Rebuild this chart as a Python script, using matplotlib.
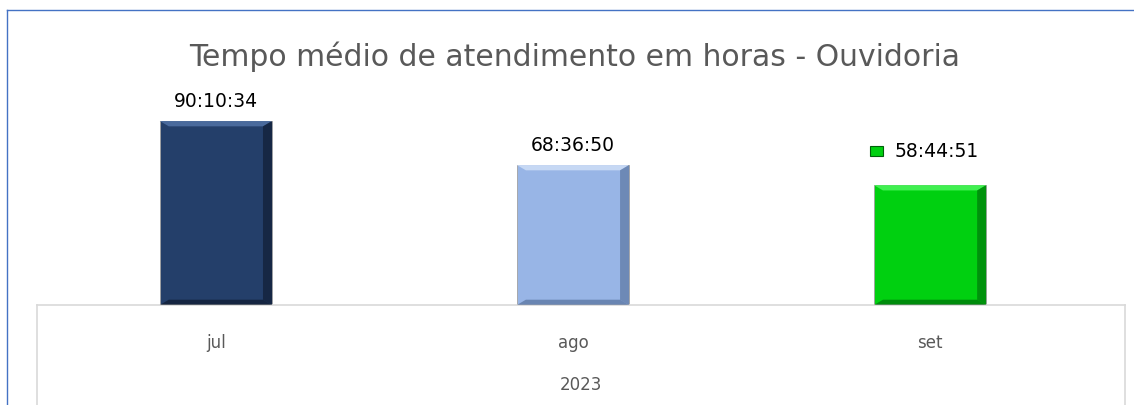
import matplotlib
matplotlib.use("Agg")
import matplotlib.pyplot as plt
from matplotlib.lines import Line2D
from matplotlib.patches import Polygon, Rectangle

months = ["jul", "ago", "set"]
year = "2023"
labels = ["90:10:34", "68:36:50", "58:44:51"]
colors = ["#243F6A", "#98B5E6", "#00D010"]
dark = ["#0B1526", "#4A6590", "#00600A"]
light = ["#4A6A9C", "#C6D8F4", "#40F050"]


def to_hours(s):
    h, m, sec = [int(p) for p in s.split(":")]
    return h + m / 60 + sec / 3600


hours = [to_hours(s) for s in labels]

W, H = 1134, 405
fig = plt.figure(figsize=(W / 100, H / 100), dpi=100)
ax = fig.add_axes([37 / W, 100 / H, (1125 - 37) / W, (305 - 101) / H])

x = list(range(len(months)))
bw = 0.314
bars = ax.bar(x, hours, width=bw, color=colors, edgecolor="#A0A0A0", linewidth=0.6, zorder=2)

# simple bevel look
for b, d, l in zip(bars, dark, light):
    x0, y0 = b.get_x(), b.get_y()
    w, h = b.get_width(), b.get_height()
    ex = w * 0.08
    ey = 2.6
    ax.add_patch(Polygon([(x0, y0 + h), (x0 + w, y0 + h), (x0 + w - ex, y0 + h - ey), (x0 + ex, y0 + h - ey)],
                         closed=True, color=l, lw=0, zorder=3))
    ax.add_patch(Polygon([(x0 + w, y0), (x0 + w, y0 + h), (x0 + w - ex, y0 + h - ey), (x0 + w - ex, y0 + ey)],
                         closed=True, color=d, lw=0, alpha=0.55, zorder=3))
    ax.add_patch(Polygon([(x0, y0), (x0 + w, y0), (x0 + w - ex, y0 + ey), (x0 + ex, y0 + ey)],
                         closed=True, color=d, lw=0, alpha=0.6, zorder=3))

for i, (xi, v, s) in enumerate(zip(x, hours, labels)):
    if i == len(x) - 1:
        ax.annotate(s, (xi, v), xytext=(5, 24), textcoords="offset points",
                    ha="center", va="center", fontsize=13.5, color="black")
        ax.add_patch(Rectangle((xi - 0.168, v + 14.3), 0.036, 4.9, color=colors[i],
                               ec=dark[i], lw=0.8, clip_on=False, zorder=4))
    else:
        ax.annotate(s, (xi, v), xytext=(0, 7), textcoords="offset points",
                    ha="center", va="bottom", fontsize=13.5, color="black")

ax.set_ylim(0, 100)
ax.set_xlim(-0.501, 2.546)
ax.set_yticks([])
ax.set_xticks(x)
ax.set_xticklabels(months, fontsize=12, color="#595959")
ax.tick_params(axis="x", length=0, pad=21)
for sp in ["top", "left", "right"]:
    ax.spines[sp].set_visible(False)
ax.spines["bottom"].set_color("#D9D9D9")
ax.spines["bottom"].set_linewidth(1.2)

fig.text(0.5 * (37 + 1125) / W, 1 - 385 / H, year, ha="center", va="center", fontsize=12, color="#595959")
fig.text(575 / W, 1 - 57 / H, "Tempo médio de atendimento em horas - Ouvidoria",
         ha="center", va="center", fontsize=21.5, color="#595959")

# category frame lines
fig.add_artist(Line2D([37 / W, 37 / W], [0, 100 / H], color="#D9D9D9", lw=1.2))
fig.add_artist(Line2D([1125 / W, 1125 / W], [0, 100 / H], color="#D9D9D9", lw=1.2))

# chart border
fig.add_artist(Line2D([7 / W, 7 / W], [0, 1 - 10 / H], color="#4472C4", lw=1.0))
fig.add_artist(Line2D([7 / W, 1], [1 - 10 / H, 1 - 10 / H], color="#4472C4", lw=1.0))

fig.savefig("out.png", dpi=100)
